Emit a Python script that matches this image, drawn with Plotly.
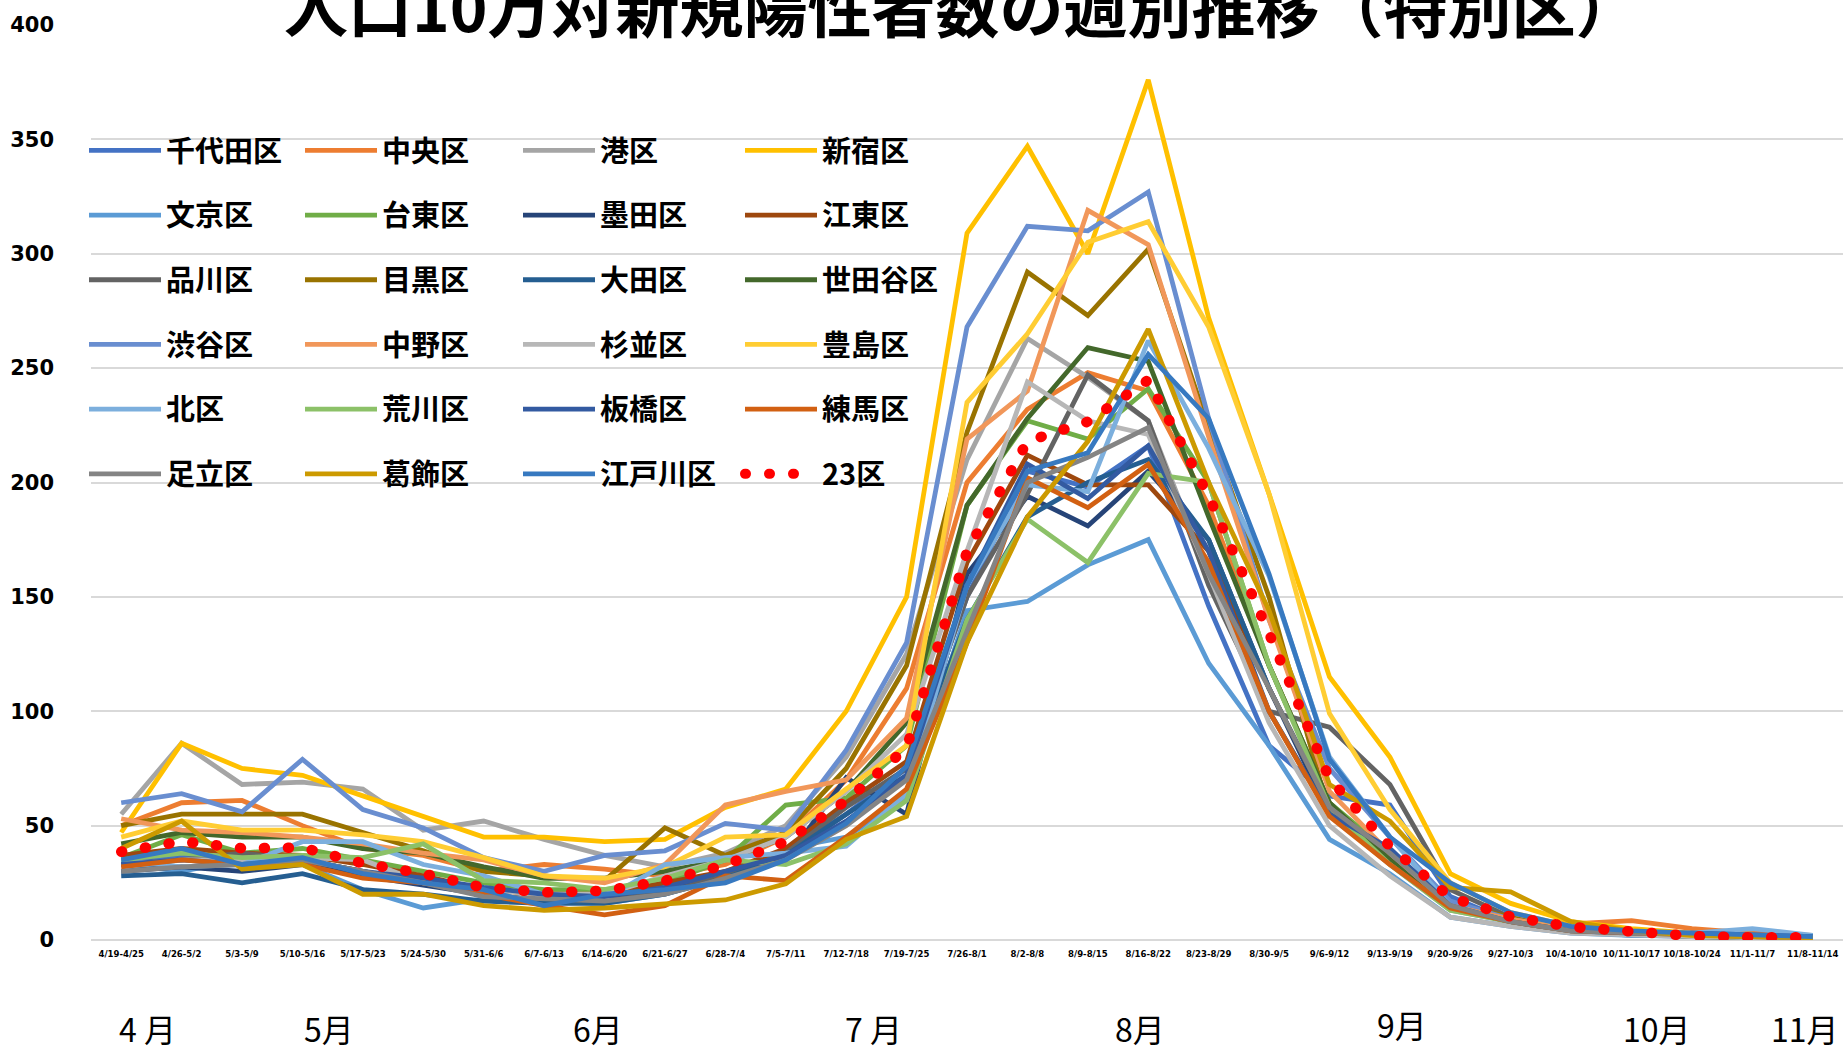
import plotly.graph_objects as go

weeks = ["4/19-4/25", "4/26-5/2", "5/3-5/9", "5/10-5/16", "5/17-5/23", "5/24-5/30",
         "5/31-6/6", "6/7-6/13", "6/14-6/20", "6/21-6/27", "6/28-7/4", "7/5-7/11",
         "7/12-7/18", "7/19-7/25", "7/26-8/1", "8/2-8/8", "8/9-8/15", "8/16-8/22",
         "8/23-8/29", "8/30-9/5", "9/6-9/12", "9/13-9/19", "9/20-9/26", "9/27-10/3",
         "10/4-10/10", "10/11-10/17", "10/18-10/24", "11/1-11/7", "11/8-11/14"]

chiyoda = [35, 37, 36, 35, 30, 25, 20, 17, 18, 22, 28, 38, 55, 75, 150, 205, 198, 216, 146, 85, 63, 59, 19, 8, 4, 2, 1.5, 1, 1]
chuo = [50, 60, 61, 50, 40, 37, 30, 33, 31, 28, 33, 45, 70, 110, 200, 232, 248, 240, 190, 120, 60, 35, 16, 10, 7, 8.5, 5, 3, 2]
minato = [55, 86, 68, 69, 66, 48, 52, 44, 37, 32, 38, 50, 80, 125, 210, 263, 246, 227, 160, 100, 55, 33, 13, 8, 4, 3, 2, 1.5, 1]
shinjuku = [47, 86, 75, 72, 63, 54, 45, 45, 43, 44, 58, 66, 100, 150, 309, 347, 300, 376, 272, 195, 115, 80, 29, 16, 8, 5, 3, 2, 1.5]
bunkyo = [33, 30, 35, 33, 22, 14, 18, 17, 16, 20, 28, 40, 45, 62, 144, 148, 164, 175, 121, 85, 44, 29, 10, 6, 3, 2, 1.5, 1, 1]
taito = [36, 46, 38, 40, 35, 30, 25, 22, 22, 25, 35, 59, 62, 85, 190, 227, 219, 241, 200, 120, 60, 38, 15, 8, 4, 3, 2, 1.5, 1]
sumida = [30, 32, 30, 33, 28, 24, 20, 17, 17, 22, 27, 35, 71, 55, 160, 194, 181, 205, 175, 110, 55, 35, 14, 8, 4, 3, 2, 1.5, 1]
koto = [37, 40, 38, 37, 33, 28, 22, 20, 20, 25, 30, 40, 60, 78, 165, 212, 199, 199, 170, 110, 58, 35, 15, 8, 4, 3, 2, 1.5, 1]
shinagawa = [33, 35, 38, 35, 30, 25, 20, 17, 17, 21, 28, 38, 58, 75, 150, 195, 247, 227, 155, 100, 93, 68, 22, 10, 5, 3, 2, 1.5, 1]
meguro = [50, 55, 55, 55, 47, 39, 30, 28, 26, 49, 37, 47, 75, 120, 222, 292, 273, 302, 224, 150, 55, 38, 16, 10, 5, 3, 2, 1.5, 1]
ota = [28, 29, 25, 29, 22, 20, 17, 16, 16, 20, 27, 37, 55, 72, 140, 185, 200, 210, 175, 110, 58, 35, 14, 8, 4, 2.5, 1.5, 1, 1]
setagaya = [42, 47, 45, 45, 40, 38, 32, 27, 27, 30, 35, 45, 65, 95, 190, 228, 259, 253, 185, 120, 60, 35, 14, 8, 4, 2.5, 1.5, 1, 1]
shibuya = [60, 64, 56, 79, 57, 49, 36, 30, 37, 39, 51, 48, 83, 130, 268, 312, 310, 327, 228, 140, 75, 45, 17, 9, 5, 3, 2, 1.5, 1]
nakano = [53, 48, 47, 45, 42, 38, 35, 28, 25, 33, 59, 65, 70, 97, 219, 240, 319, 304, 220, 140, 65, 38, 15, 9, 5, 3, 2, 1.5, 1]
suginami = [32, 35, 35, 36, 35, 25, 22, 20, 20, 28, 35, 45, 65, 90, 170, 244, 227, 221, 160, 95, 50, 28, 10, 6, 3, 2, 1.5, 1, 1]
toshima = [45, 52, 48, 48, 46, 43, 36, 28, 27, 32, 45, 46, 66, 85, 235, 265, 305, 314, 268, 195, 99, 57, 25, 12, 6, 4, 2, 1.5, 1]
kita = [35, 32, 33, 43, 43, 33, 28, 20, 18, 33, 36, 38, 41, 64, 155, 199, 196, 262, 215, 159, 80, 45, 15, 8, 4, 3, 3, 5, 2]
arakawa = [35, 38, 36, 37, 36, 42, 26, 25, 22, 27, 35, 33, 42, 61, 140, 184, 165, 204, 200, 120, 58, 33, 13, 8, 4, 3, 2, 1.5, 1]
itabashi = [33, 35, 33, 35, 30, 27, 23, 20, 19, 23, 30, 37, 52, 72, 155, 208, 193, 216, 170, 100, 55, 40, 15, 8, 4, 3, 3, 2, 1.5]
nerima = [32, 35, 33, 33, 27, 25, 20, 15, 11, 15, 28, 26, 45, 66, 130, 202, 189, 208, 165, 100, 54, 33, 14, 8, 4, 3, 2, 1.5, 1]
adachi = [30, 32, 33, 35, 30, 25, 19, 18, 17, 20, 27, 35, 50, 70, 135, 200, 211, 224, 160, 110, 58, 38, 15, 8, 4, 3, 2, 1.5, 1]
katsushika = [40, 52, 31, 33, 20, 20, 15, 13, 14, 16, 17.5, 24.6, 44, 54, 130, 185, 218, 267, 200, 144, 68, 52, 23, 21, 8, 4, 2, 1.5, 1]
edogawa = [35, 40, 33, 36, 29, 25, 22, 15, 20, 22, 25, 35, 51, 76, 155, 205, 213, 256, 228, 160, 79, 45, 25, 12, 6, 4, 3, 2, 1.5]
ku23 = [38.6, 43.1, 40.1, 40.4, 33.5, 29, 22.9, 20.8, 21.5, 25.9, 32.8, 43, 60.9, 84, 169.8, 218, 226.6, 244.8, 194, 134, 70.5, 40.8, 18.7, 10.2, 5.7, 3.35, 1.75, 1.2, 1.2]

names = ["千代田区", "中央区", "港区", "新宿区", "文京区", "台東区", "墨田区", "江東区",
         "品川区", "目黒区", "大田区", "世田谷区", "渋谷区", "中野区", "杉並区", "豊島区",
         "北区", "荒川区", "板橋区", "練馬区", "足立区", "葛飾区", "江戸川区", "23区"]
series = [chiyoda, chuo, minato, shinjuku, bunkyo, taito, sumida, koto,
          shinagawa, meguro, ota, setagaya, shibuya, nakano, suginami, toshima,
          kita, arakawa, itabashi, nerima, adachi, katsushika, edogawa, ku23]
colors = ["#4472C4", "#ED7D31", "#A5A5A5", "#FFC000", "#5B9BD5", "#70AD47", "#264478", "#9E480E",
          "#636363", "#997300", "#255E91", "#43682B", "#698ED0", "#F1975A", "#B7B7B7", "#FFCD33",
          "#7CAFDD", "#8CC168", "#335AA1", "#D26012", "#848484", "#CC9A00", "#3779C0", "#FF0000"]

title_text = "人口10万対新規陽性者数の週別推移（特別区）"
month_labels = ["4 月", "5月", "6月", "7 月", "8月", "9月", "10月", "11月"]

W, H = 1843, 1051
L, R, T, B = 91, 0, 25, 111
pw, ph = W - L - R, H - T - B

def px_x(p):
    return (p - L) / pw

def px_y(p):
    return 1 - (p - T) / ph

fig = go.Figure()
legend_ids = ["legend", "legend2", "legend3", "legend4"]
for i, (nm, vals, col) in enumerate(zip(names, series, colors)):
    leg = legend_ids[i % 4]
    if nm == "23区":
        line = dict(color=col, width=10.5, dash="1px,23px")
    else:
        line = dict(color=col, width=4.8)
    fig.add_trace(go.Scatter(x=weeks, y=vals, mode="lines", name=nm, line=line,
                             legend=leg, legendgroup=nm, hoverinfo="skip"))

leg_cols_px = [84, 300, 518, 740]
leg_top_px = 125
leg_font = dict(family="Noto Sans CJK JP", size=29, color="#000000", weight="bold")
for lid, cx in zip(legend_ids, leg_cols_px):
    fig.update_layout({lid: dict(x=px_x(cx), y=px_y(leg_top_px), xanchor="left", yanchor="top",
                                 orientation="v", font=leg_font, bgcolor="rgba(0,0,0,0)",
                                 tracegroupgap=24, itemwidth=72, borderwidth=0,
                                 traceorder="grouped")})

month_px = [147, 329, 598, 873, 1140, 1402, 1657, 1805]
month_py = [1028, 1028, 1028, 1028, 1028, 1024, 1028, 1028]
annotations = []
for txt, mx, my in zip(month_labels, month_px, month_py):
    annotations.append(dict(text=txt, x=px_x(mx), y=px_y(my), xref="paper", yref="paper",
                            xanchor="center", yanchor="middle", showarrow=False,
                            font=dict(family="Noto Sans CJK JP", size=32, color="#000000")))
annotations.append(dict(text=title_text, x=px_x(962), y=px_y(4), xref="paper", yref="paper",
                        xanchor="center", yanchor="middle", showarrow=False,
                        bgcolor="#FFFFFF", borderpad=6,
                        font=dict(family="Noto Sans CJK JP", size=64, color="#000000", weight="bold")))

fig.update_layout(
    width=W, height=H,
    margin=dict(l=L, r=R, t=T, b=B, pad=0),
    paper_bgcolor="#FFFFFF", plot_bgcolor="#FFFFFF",
    showlegend=True,
    annotations=annotations,
    xaxis=dict(type="category", range=[-0.5, len(weeks) - 0.5], showgrid=False, showline=False,
               zeroline=False, ticks="", tickangle=0, ticklabelstandoff=6,
               tickfont=dict(family="Liberation Sans Narrow, DejaVu Sans Condensed, sans-serif",
                             size=9.5, color="#000000", weight="bold")),
    yaxis=dict(range=[0, 400], dtick=50, showgrid=True, gridcolor="#D9D9D9", gridwidth=1.5,
               zeroline=True, zerolinecolor="#D9D9D9", zerolinewidth=1.5, showline=False,
               ticks="", ticklabelstandoff=36,
               tickfont=dict(family="DejaVu Sans", size=21, color="#000000", weight="bold")),
)

post = """
document.body.style.margin = '0';
document.body.style.padding = '0';
var gd = document.getElementById('{plot_id}');
gd.querySelectorAll('path.js-line').forEach(function(p){
  var s = p.style.stroke || '';
  if (s.replace(/\\s/g,'') === 'rgb(255,0,0)') { p.style.strokeLinecap = 'round'; }
});
"""
fig.write_html("out.html", post_script=post, config={"displayModeBar": False})
